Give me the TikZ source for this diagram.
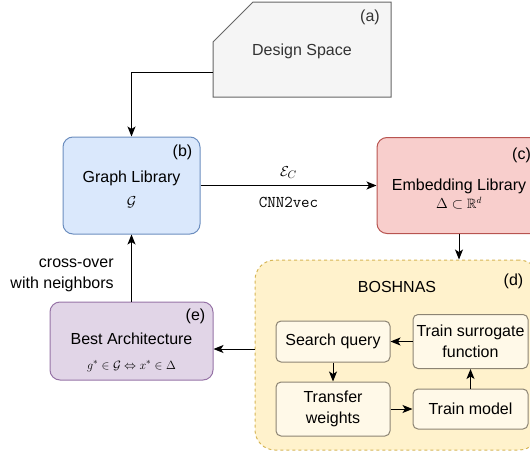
\documentclass[tikz,border=0pt]{standalone}
\usepackage{fontspec}
\setmainfont{Liberation Sans}
\usepackage{amssymb}
\usepackage{xcolor}
\usetikzlibrary{positioning,arrows.meta,calc}

\definecolor{dsfill}{HTML}{F5F5F5}
\definecolor{dsline}{HTML}{666666}
\definecolor{glfill}{HTML}{DAE8FC}
\definecolor{glline}{HTML}{6C8EBF}
\definecolor{elfill}{HTML}{F8CECC}
\definecolor{elline}{HTML}{B85450}
\definecolor{bafill}{HTML}{E1D5E7}
\definecolor{baline}{HTML}{9673A6}
\definecolor{bsfill}{HTML}{FFF2CC}
\definecolor{bsline}{HTML}{D6B656}
\definecolor{subfill}{HTML}{FFF9E8}
\definecolor{subline}{HTML}{8C8473}

\newcommand{\smath}[2][13]{{\fontsize{#1}{15}\selectfont$#2$}}

\begin{document}
\begin{tikzpicture}[
  x=1pt, y=-1pt, line width=1pt,
  font=\fontsize{16}{21}\selectfont, >={Stealth[length=10pt,width=8pt,inset=2.5pt]},
  ent/.style={draw,rounded corners=10pt,inner sep=0pt},
  sub/.style={draw=subline,fill=subfill,rounded corners=5pt,align=center,inner sep=0pt,minimum width=114pt},
  tag/.style={inner sep=0pt,align=center}
]
\useasboundingbox (0,0) rectangle (530,455);

% design space (cut corner)
\filldraw[fill=dsfill,draw=dsline] (253,2) -- (391,2) -- (391,97) -- (213,97) -- (213,42) -- cycle;
\node[minimum width=178pt,minimum height=95pt,text=black!80] (ds) at (302,51) {Design Space};
\node[tag,text=black!80] (tga) at (370,17) {(a)};

% libraries
\node[ent,fill=glfill,draw=glline,minimum width=137pt,minimum height=97pt] (gl) at (131.5,185.5) {};
\node[tag] (gltxt) at ([yshift=-3.5pt]gl.center) {Graph Library\\[3pt] \smath[14.5]{\mathcal{G}}};
\node[ent,fill=elfill,draw=elline,minimum width=164pt,minimum height=96pt,right=176pt of gl] (el) {};
\node[tag] (eltxt) at ([yshift=-8.5pt]el.center) {Embedding Library\\[-3pt] \smath[13.5]{\Delta\subset\mathbb{R}^d}};
\node[ent,fill=bafill,draw=baline,minimum width=163pt,minimum height=78pt] (ba) at (131.5,341) {};
\node[tag] (batxt) at ([yshift=-11pt]ba.center) {Best Architecture\\[4pt] \smath{g^*\in\mathcal{G}\Leftrightarrow x^*\in\Delta}};
\node[tag] (tgb) at ([xshift=-18pt,yshift=-16pt]gl.north east) {(b)};
\node[tag] (tgc) at ([xshift=-20pt,yshift=-18pt]el.north east) {(c)};
\node[tag] (tge) at ([xshift=-18pt,yshift=-15pt]ba.north east) {(e)};

% BOSHNAS
\node[draw=bsline,fill=bsfill,dash pattern=on 3pt off 3pt,rounded corners=20pt,
  minimum width=284pt,minimum height=190pt] (bos) at (397,355) {};
\node[tag] (bosname) at ([yshift=-27pt]bos.north) {BOSHNAS};
\node[tag] (tgd) at ([xshift=-26pt,yshift=-22pt]bos.north east) {(d)};

\node[sub,minimum height=41pt] (sq) at (333,341.5) {Search query};
\node[sub,minimum height=54pt,below=19pt of sq] (tw) {Transfer\\weights};
\node[sub,minimum width=115pt,minimum height=54pt,right=22pt of sq] (ts) {Train surrogate\\function};
\node[sub,minimum width=115pt,minimum height=40pt,right=22pt of tw] (tm) {Train model};

% connectors
\draw[->] ([yshift=27pt]ds.south west) -| (gl.north);
\draw[->] (gl) -- node[above=3pt]{\fontsize{15}{18}\selectfont$\mathcal{E}_C$} node[below=8pt,font=\fontsize{16.5}{20}\selectfont\ttfamily]{CNN2vec} (el);
\draw[->] (el.south) -- (el.south |- bos.north);
\coordinate (bx) at ([yshift=-8pt]ba.east);
\draw[->] (bx -| bos.west) -- (bx);
\draw[->] (ba) -- node[left=14pt,yshift=-7pt,align=right]{cross-over\\with neighbors} (gl);
\draw[->] (ts) -- (sq);
\draw[->] (sq) -- (tw);
\draw[->] (tw) -- (tm);
\draw[->] (tm) -- (ts);
\end{tikzpicture}
\end{document}
